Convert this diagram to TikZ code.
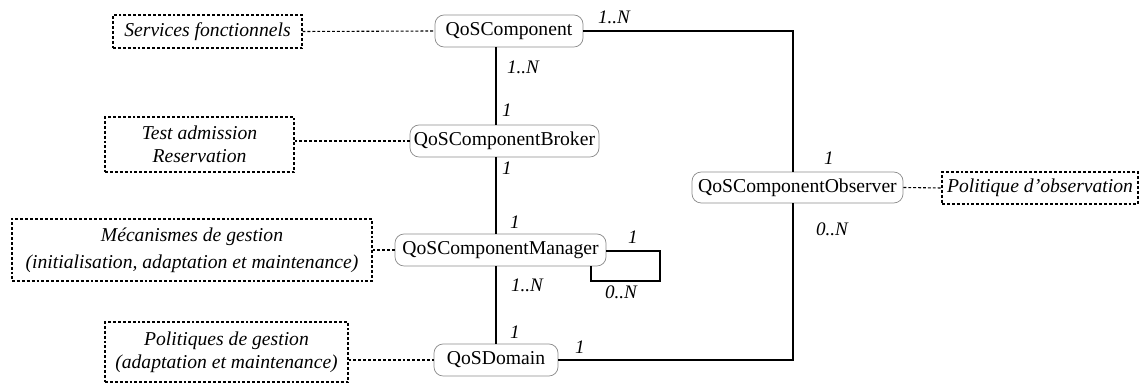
\documentclass[tikz,border=0pt]{standalone}
\usepackage{fontspec}
\setmainfont{Liberation Serif}
\newfontfamily\timesfont{Liberation Serif}
\usepackage{tikz}
\usetikzlibrary{positioning}

\begin{document}
\begin{tikzpicture}[
        x=0.55pt, y=-0.55pt,
        classe/.style={
            draw=black!45,
            rounded corners=5pt,
            fill=white,
            minimum height=17.6pt,
            inner sep=0pt,
            font=\timesfont\fontsize{10.8}{12}\selectfont
        },
        note/.style={
            draw,
            line width=0.6pt,
            dash pattern=on 1.6pt off 1.1pt,
            inner sep=0pt,
            align=center,
            font=\timesfont\itshape\fontsize{10.8}{12.5}\selectfont
        },
        lien/.style={draw, line width=0.8pt},
        pointille/.style={draw, line width=0.6pt, dash pattern=on 1.6pt off 1.1pt},
        mult/.style={font=\timesfont\itshape\fontsize{10.5}{12}\selectfont, inner sep=0pt}
    ]
        \useasboundingbox (0,0) rectangle (1140,383);

        % classes
        \node[classe, minimum width=148*0.55pt] (comp) at (509,31) {QoSComponent};
        \node[classe, minimum width=189*0.55pt] (broker) at (504.5,141) {QoSComponentBroker};
        \node[classe, minimum width=211*0.55pt] (manager) at (500.5,250) {QoSComponentManager};
        \node[classe, minimum width=124*0.55pt] (domain) at (496,360) {QoSDomain};
        \node[classe, minimum width=211*0.55pt, minimum height=17pt] (observer) at (797.5,187.5) {QoSComponentObserver};

        % notes (pointilles)
        \node[note, minimum width=189*0.55pt, minimum height=33*0.55pt] (nserv) at (207.5,31.5) {Services fonctionnels};
        \node[note, minimum width=189*0.55pt, minimum height=55*0.55pt] (ntest) at (199.5,144.5) {Test admission\\Reservation};
        \node[note, minimum width=360*0.55pt, minimum height=62*0.55pt, font=\timesfont\itshape\fontsize{10.8}{11}\selectfont] (nmeca) at (192,250) {Mécanismes de gestion\\[4pt](initialisation, adaptation et maintenance)};
        \node[note, minimum width=243*0.55pt, minimum height=60*0.55pt] (npol) at (226.5,352) {Politiques de gestion\\(adaptation et maintenance)};
        \node[note, minimum width=196*0.55pt, minimum height=32*0.55pt] (nobs) at (1040,188) {Politique d’observation};

        \draw[pointille] (nserv.east) -- (comp.west);
        \draw[pointille] (ntest.east |- broker.west) -- (broker.west);
        \draw[pointille] (nmeca.east) -- (manager.west);
        \draw[pointille] (npol.east |- domain.west) -- (domain.west);
        \draw[pointille] (observer.east) -- (nobs.west);

        % axe vertical
        \coordinate (axe) at (496,0);
        \coordinate (dr) at (793,0);
        \draw[lien] (comp.south -| axe) -- (broker.north -| axe);
        \draw[lien] (broker.south -| axe) -- (manager.north -| axe);
        \draw[lien] (manager.south -| axe) -- (domain.north -| axe);

        % observateur
        \draw[lien] (comp.east) -| (observer.north -| dr);
        \draw[lien] (domain.east) -| (observer.south -| dr);

        % boucle sur le manager
        \coordinate (b1) at (660,251);
        \coordinate (b2) at (591,281);
        \draw[lien] (manager.east |- b1) -- (b1) |- (b2) -- (b2 |- manager.south);

        % multiplicites
        \node[mult] (m1) at (614,17) {1..N};
        \node[mult] (m2) at (523,67) {1..N};
        \node[mult] (m3) at (507,110) {1};
        \node[mult] (m4) at (507,168) {1};
        \node[mult] (m5) at (515,222) {1};
        \node[mult] (m6) at (527,285) {1..N};
        \node[mult] (m7) at (515,332) {1};
        \node[mult] (m8) at (580,347) {1};
        \node[mult] (m9) at (633,237) {1};
        \node[mult] (m10) at (621,292) {0..N};
        \node[mult] (m11) at (829,158) {1};
        \node[mult] (m12) at (832,229) {0..N};
    \end{tikzpicture}
\end{document}
